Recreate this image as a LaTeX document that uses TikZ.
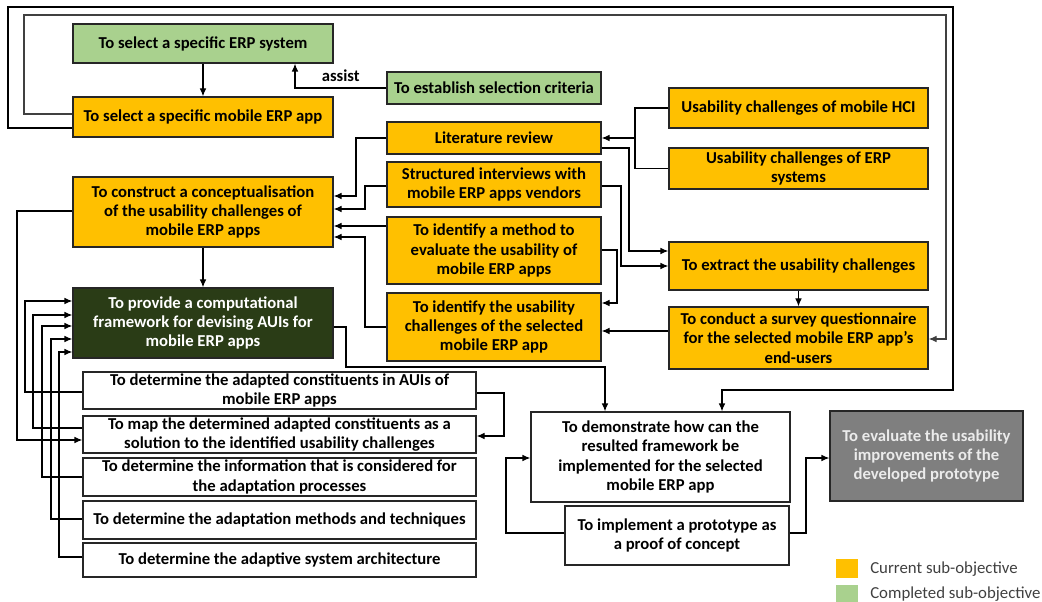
\documentclass[tikz,border=0pt]{standalone}
\usepackage{fontspec}
\setmainfont{Carlito}
\usetikzlibrary{arrows.meta,calc}
\definecolor{objorange}{HTML}{FFC000}
\definecolor{objgreen}{HTML}{A9D18E}
\definecolor{objdark}{RGB}{42,60,22}
\definecolor{objgray}{HTML}{7F7F7F}
\definecolor{boxline}{HTML}{262626}
\definecolor{legendtext}{HTML}{404040}
\begin{document}
\begin{tikzpicture}[x=0.75pt,y=-0.75pt,
  box/.style={draw=boxline, line width=0.9pt, align=center, inner sep=0pt,
    font=\fontsize{12.5}{14.5}\selectfont\bfseries},
  sz/.style 2 args={minimum width=#1*0.75pt, minimum height=#2*0.75pt},
  current/.style={box, fill=objorange},
  completed/.style={box, fill=objgreen},
  future/.style={box, fill=white},
  conn/.style={draw=black, line width=0.9pt},
  arr/.style={conn, -{Latex[length=6pt,width=5pt]}},
  legendtxt/.style={anchor=west, inner sep=0pt, text=legendtext,
    font=\fontsize{12.6}{14.5}\selectfont}]
\useasboundingbox (0,0) rectangle (1042,602);

% selection of the ERP system and app
\node[completed, sz={260}{39}] (selerp) at (203,43.5) {To select a specific ERP system};
\node[current, sz={260}{40}] (selapp) at (203,117) {To select a specific mobile ERP app};
\node[completed, sz={214}{32}] (criteria) at (494,88) {To establish selection criteria};

% usability challenges
\node[current, sz={214}{32}] (litrev) at (494,138) {Literature review};
\node[current, sz={259}{40}] (hci) at (798.5,108) {Usability challenges of mobile HCI};
\node[current, sz={259}{41}] (erpch) at (798.5,168.5) {Usability challenges of ERP\\systems};
\node[current, sz={214}{45}] (interviews) at (494,184.5) {Structured interviews with\\mobile ERP apps vendors};
\node[current, sz={214}{67}] (method) at (494,250.5) {To identify a method to\\evaluate the usability of\\mobile ERP apps};
\node[current, sz={214}{68}] (identify) at (494,327) {To identify the usability\\challenges of the selected\\mobile ERP app};
\node[current, sz={260}{70}] (construct) at (203,212) {To construct a conceptualisation\\of the usability challenges of\\mobile ERP apps};
\node[current, sz={259}{48}] (extract) at (798.5,266) {To extract the usability challenges};
\node[current, sz={259}{62}] (survey) at (798.5,338) {To conduct a survey questionnaire\\for the selected mobile ERP app’s\\end-users};

% framework and its constituents
\node[box, fill=objdark, text=white, sz={260}{70}] (framework) at (203,323) {To provide a computational\\framework for devising AUIs for\\mobile ERP apps};
\node[future, sz={393}{37}] (cA) at (279.5,390.5) {To determine the adapted constituents in AUIs of\\mobile ERP apps};
\node[future, sz={393}{37}] (cB) at (279.5,434.5) {To map the determined adapted constituents as a\\solution to the identified usability challenges};
\node[future, sz={393}{38}] (cC) at (279.5,477) {To determine the information that is considered for\\the adaptation processes};
\node[future, sz={393}{38}] (cD) at (279.5,520) {To determine the adaptation methods and techniques};
\node[future, sz={393}{34}] (cE) at (279.5,560) {To determine the adaptive system architecture};

% demonstration and evaluation
\node[future, sz={259}{90}] (demo) at (660.5,457) {To demonstrate how can the\\resulted framework be\\implemented for the selected\\mobile ERP app};
\node[future, sz={224}{59}] (proto) at (677,535.5) {To implement a prototype as\\a proof of concept};
\node[box, fill=objgray, text=white!92!black, sz={193}{90}] (evaluate) at (926.5,456) {To evaluate the usability\\improvements of the\\developed prototype};

% legend
\node[fill=objorange, minimum width=22*0.75pt, minimum height=19*0.75pt, inner sep=0pt] (keycur) at (847,568.5) {};
\node[legendtxt] (keycurtxt) at (870,569) {Current sub-objective};
\node[fill=objgreen, minimum width=22*0.75pt, minimum height=18*0.75pt, inner sep=0pt] (keycomp) at (847,594) {};
\node[legendtxt] (keycomptxt) at (870,594) {Completed sub-objective};

% outer and inner frame lines leaving the selected app
\draw[arr] (selapp.west |- 0,128) -| (8,7) -| (953,390) -| (demo.north -| 722,0);
\draw[arr, draw=black!75] (selapp.west |- 0,114) -| (24,15) -| (946,339) -- (survey.east |- 0,339);

% selection
\draw[arr] (selerp.south) -- (selapp.north);
\draw[arr] (criteria.west) -| node[pos=0.25, above=1pt, font=\fontsize{12.5}{14}\selectfont\bfseries] (assist) {assist} (selerp.south -| 295,0);

% literature sources
\draw[conn] (hci.west) -| (erpch.west -| 635,0) -- (erpch.west);
\draw[arr] (litrev.east -| 635,0) -- (litrev.east);

% inputs to the conceptualisation
\draw[arr] (litrev.west) -| (356,196) -- (construct.east |- 0,196);
\draw[arr] (interviews.west |- 0,186) -| (365,209) -- (construct.east |- 0,209);
\draw[arr] (method.west |- 0,226) -- (construct.east |- 0,226);
\draw[arr] (identify.west) -| (365,237) -- (construct.east |- 0,237);

% towards the extraction
\draw[arr] (litrev.east |- 0,148) -| (629,251) -- (extract.west |- 0,251);
\draw[arr] (interviews.east |- 0,186) -| (621,266) -- (extract.west |- 0,266);
\draw[arr] (method.east |- 0,250) -| (617,303) -- (identify.east |- 0,303);
\draw[arr] (extract.south) -- (survey.north);
\draw[arr] (survey.west |- 0,331) -- (identify.east |- 0,331);

% conceptualisation to framework
\draw[arr] (construct.south) -- (framework.north);
\draw[arr] (framework.east |- 0,327) -| (346,367) -| (demo.north -| 605,0);

% constituents feeding the framework
\draw[arr] (construct.west |- 0,211) -| (17,440) -- (cB.west |- 0,440);
\draw[arr] (cA.west |- 0,392) -| (25,301) -- (framework.west |- 0,301);
\draw[arr] (cB.west |- 0,428) -| (33,315) -- (framework.west |- 0,315);
\draw[arr] (cC.west) -| (42,326) -- (framework.west |- 0,326);
\draw[arr] (cD.west |- 0,519) -| (51,339) -- (framework.west |- 0,339);
\draw[arr] (cE.west |- 0,557) -| (59,352) -- (framework.west |- 0,352);
\draw[arr] (cA.east |- 0,393) -| (504,436) -- (cB.east |- 0,436);

% prototype links
\draw[arr] (proto.west |- 0,533) -| (506,458) -- (demo.west |- 0,458);
\draw[arr] (proto.east |- 0,533) -| (806,458) -- (evaluate.west |- 0,458);
\end{tikzpicture}
\end{document}
